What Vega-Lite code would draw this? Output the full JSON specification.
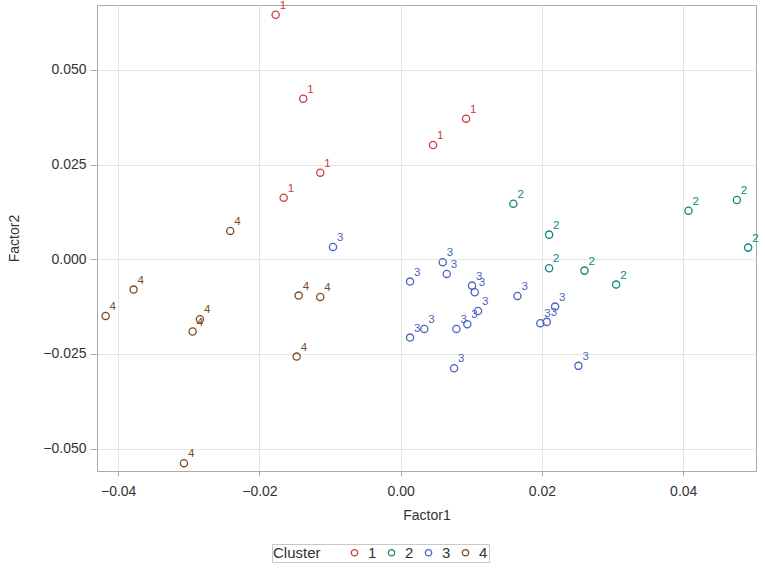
{
  "$schema": "https://vega.github.io/schema/vega-lite/v6.json",
  "autosize": {"type": "none"},
  "width": 659,
  "height": 466,
  "padding": {"left": 97, "top": 5, "right": 9, "bottom": 98},
  "background": "white",
  "data": {
    "values": [
      {"Factor1": -0.01771, "Factor2": 0.06454, "Cluster": "1"},
      {"Factor1": -0.01380, "Factor2": 0.04237, "Cluster": "1"},
      {"Factor1": -0.01139, "Factor2": 0.02285, "Cluster": "1"},
      {"Factor1": -0.01657, "Factor2": 0.01625, "Cluster": "1"},
      {"Factor1": 0.00925, "Factor2": 0.03710, "Cluster": "1"},
      {"Factor1": 0.00458, "Factor2": 0.03016, "Cluster": "1"},
      {"Factor1": 0.01595, "Factor2": 0.01467, "Cluster": "2"},
      {"Factor1": 0.02101, "Factor2": 0.00649, "Cluster": "2"},
      {"Factor1": 0.02101, "Factor2": -0.00237, "Cluster": "2"},
      {"Factor1": 0.02601, "Factor2": -0.00301, "Cluster": "2"},
      {"Factor1": 0.03050, "Factor2": -0.00670, "Cluster": "2"},
      {"Factor1": 0.04074, "Factor2": 0.01282, "Cluster": "2"},
      {"Factor1": 0.04759, "Factor2": 0.01565, "Cluster": "2"},
      {"Factor1": 0.04919, "Factor2": 0.00306, "Cluster": "2"},
      {"Factor1": -0.00959, "Factor2": 0.00325, "Cluster": "3"},
      {"Factor1": 0.00132, "Factor2": -0.00591, "Cluster": "3"},
      {"Factor1": 0.00595, "Factor2": -0.00079, "Cluster": "3"},
      {"Factor1": 0.00652, "Factor2": -0.00388, "Cluster": "3"},
      {"Factor1": 0.01010, "Factor2": -0.00697, "Cluster": "3"},
      {"Factor1": 0.01048, "Factor2": -0.00871, "Cluster": "3"},
      {"Factor1": 0.01652, "Factor2": -0.00968, "Cluster": "3"},
      {"Factor1": 0.02186, "Factor2": -0.01251, "Cluster": "3"},
      {"Factor1": 0.01095, "Factor2": -0.01364, "Cluster": "3"},
      {"Factor1": 0.00943, "Factor2": -0.01715, "Cluster": "3"},
      {"Factor1": 0.00788, "Factor2": -0.01839, "Cluster": "3"},
      {"Factor1": 0.00334, "Factor2": -0.01839, "Cluster": "3"},
      {"Factor1": 0.00132, "Factor2": -0.02069, "Cluster": "3"},
      {"Factor1": 0.01977, "Factor2": -0.01689, "Cluster": "3"},
      {"Factor1": 0.02068, "Factor2": -0.01654, "Cluster": "3"},
      {"Factor1": 0.00755, "Factor2": -0.02876, "Cluster": "3"},
      {"Factor1": 0.02516, "Factor2": -0.02815, "Cluster": "3"},
      {"Factor1": -0.02414, "Factor2": 0.00747, "Cluster": "4"},
      {"Factor1": -0.03782, "Factor2": -0.00802, "Cluster": "4"},
      {"Factor1": -0.04178, "Factor2": -0.01496, "Cluster": "4"},
      {"Factor1": -0.02843, "Factor2": -0.01583, "Cluster": "4"},
      {"Factor1": -0.02946, "Factor2": -0.01910, "Cluster": "4"},
      {"Factor1": -0.01445, "Factor2": -0.00960, "Cluster": "4"},
      {"Factor1": -0.01139, "Factor2": -0.00995, "Cluster": "4"},
      {"Factor1": -0.01473, "Factor2": -0.02570, "Cluster": "4"},
      {"Factor1": -0.03069, "Factor2": -0.05383, "Cluster": "4"}
    ]
  },
  "encoding": {
    "x": {
      "field": "Factor1", "type": "quantitative",
      "scale": {"domain": [-0.0430, 0.0503], "nice": false, "zero": false},
      "axis": {"values": [-0.04, -0.02, 0, 0.02, 0.04], "format": ".2f", "title": "Factor1",
               "tickSize": 5, "labelPadding": 8, "titlePadding": 10}
    },
    "y": {
      "field": "Factor2", "type": "quantitative",
      "scale": {"domain": [-0.0559, 0.0671], "nice": false, "zero": false},
      "axis": {"values": [-0.05, -0.025, 0, 0.025, 0.05], "format": ".3f", "title": "Factor2",
               "tickSize": 7, "labelPadding": 4, "titlePadding": 21}
    }
  },
  "layer": [
    {"mark": {"type": "point", "shape": "circle", "filled": false, "size": 52, "strokeWidth": 1.3, "opacity": 1},
     "encoding": {
       "color": {
         "field": "Cluster", "type": "nominal",
         "scale": {"domain": ["1", "2", "3", "4"], "range": ["#d03c3c", "#13867a", "#4b63be", "#7b4a22"]},
         "legend": {
           "title": "Cluster", "orient": "none", "legendX": 175, "legendY": 539,
           "direction": "horizontal", "titleOrient": "left", "titlePadding": 26,
           "strokeColor": "#c8c8c8", "padding": 1,
           "titleFontSize": 15, "titleFontWeight": "normal", "titleColor": "#333333",
           "labelFontSize": 15, "labelColor": "#333333", "labelOffset": 6,
           "columnPadding": 7, "symbolSize": 40, "symbolStrokeWidth": 1.3,
           "symbolFillColor": "transparent",
           "titleFont": "Liberation Sans", "labelFont": "Liberation Sans"
         }
       }
     }},
    {"mark": {"type": "text", "align": "left", "baseline": "alphabetic", "dx": 4, "dy": -6, "fontSize": 11.5, "font": "Liberation Sans"},
     "encoding": {
       "text": {"field": "Cluster"},
       "color": {"field": "Cluster", "type": "nominal", "legend": null}
     }}
  ],
  "resolve": {"legend": {"color": "independent"}},
  "config": {
    "view": {"stroke": "#ababab", "strokeWidth": 1},
    "axis": {
      "gridColor": "#e4e4e4", "domainColor": "#ababab", "tickColor": "#ababab",
      "labelColor": "#333333", "titleColor": "#333333",
      "labelFont": "Liberation Sans", "titleFont": "Liberation Sans",
      "labelFontSize": 14, "titleFontSize": 14, "titleFontWeight": "normal"
    }
  }
}
